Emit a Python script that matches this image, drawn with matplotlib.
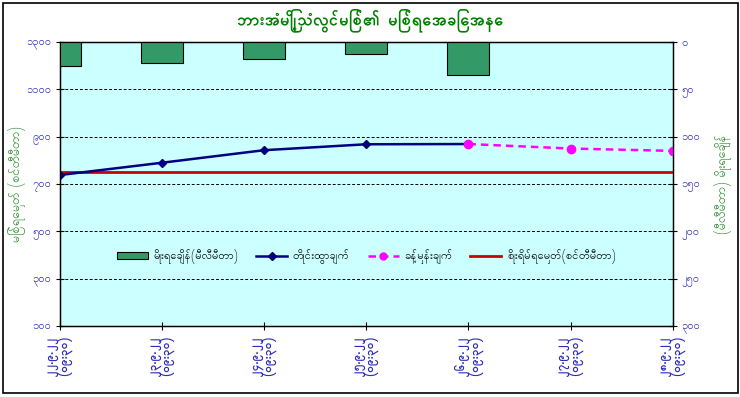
import os
import numpy as np
import matplotlib
matplotlib.use("Agg")
import matplotlib.pyplot as plt
from matplotlib import font_manager
from matplotlib.lines import Line2D
from matplotlib.patches import Patch, Rectangle

# Myanmar font (not registered by name, so add it from its file)
gdir = "/usr/share/fonts/truetype/google-fonts/"
for fn in ["Padauk-Regular.ttf", "Padauk-Bold.ttf"]:
    if os.path.exists(gdir + fn):
        font_manager.fontManager.addfont(gdir + fn)
plt.rcParams['font.family'] = ['Padauk', 'DejaVu Sans']

# data
dates = ["၂၂.၉.၂၂\n(၀၉:၃၀)", "၂၃.၉.၂၂\n(၀၉:၃၀)", "၂၄.၉.၂၂\n(၀၉:၃၀)", "၂၅.၉.၂၂\n(၀၉:၃၀)",
         "၂၆.၉.၂၂\n(၀၉:၃၀)", "၂၇.၉.၂၂\n(၀၉:၃၀)", "၂၈.၉.၂၂\n(၀၉:၃၀)"]
rain = [25, 22, 18, 13, 35, np.nan, np.nan]
observed = [738, 790, 843, 868, 869, np.nan, np.nan]
forecast = [np.nan, np.nan, np.nan, np.nan, 869, 850, 840]
danger = 750

level_ticks = [100, 300, 500, 700, 900, 1100, 1300]
level_labels = ["၁၀၀", "၃၀၀", "၅၀၀", "၇၀၀", "၉၀၀", "၁၁၀၀", "၁၃၀၀"]
rain_ticks = [0, 50, 100, 150, 200, 250, 300]
rain_labels = ["၀", "၅၀", "၁၀၀", "၁၅၀", "၂၀၀", "၂၅၀", "၃၀၀"]

title = "ဘားအံမြို့သံလွင်မြစ်၏ မြစ်ရေအခြေအနေ"
left_label = "မြစ်ရေမှတ် (စင်တီမီတာ)"
right_label = "(မီလီမီတာ) မိုးရေချိန်"
leg_rain = "မိုးရေချိန်(မီလီမီတာ)"
leg_obs = "တိုင်းထွာချက်"
leg_fc = "ခန့်မှန်းချက်"
leg_danger = "စိုးရိမ်ရေမှတ်(စင်တီမီတာ)"

blue = "#2b2bb8"
green = "#2e8b2e"

fig = plt.figure(figsize=(7.4, 3.97), dpi=100, facecolor="white")
fig.patches.append(Rectangle((0.004, 0.010), 0.993, 0.982, transform=fig.transFigure,
                             fill=False, edgecolor="black", linewidth=1.2))
ax = fig.add_axes([0.081, 0.179, 0.828, 0.715])
ax.set_facecolor("#ccffff")
x = np.arange(len(dates))

ax.axhline(danger, color="#cc0000", linewidth=2, zorder=3)
ax.plot(x, observed, color="#000080", linewidth=1.8, marker="D", markersize=4.5, zorder=4)
ax.plot(x, forecast, color="#ff00ff", linewidth=1.8, linestyle=(0, (3, 2)),
        marker="o", markersize=6, zorder=5)

ax.set_xlim(0, 6)
ax.set_ylim(100, 1300)
ax.set_yticks(level_ticks)
ax.set_yticklabels(level_labels, color=blue, fontsize=8)
ax.set_xticks(x)
ax.set_xticklabels(dates, rotation=90, color=blue, fontsize=8.5, fontweight="bold",
                   linespacing=0.85)
ax.tick_params(axis="both", direction="inout", length=6, width=0.8)
ax.tick_params(axis="x", pad=4)
ax.grid(axis="y", color="black", linestyle=(0, (3, 2)), linewidth=0.7)
ax.set_ylabel(left_label, color=green, fontsize=9)
ax.yaxis.set_label_coords(-0.055, 0.5)
for s in ax.spines.values():
    s.set_linewidth(1)

ax2 = ax.twinx()
ax2.bar(x, rain, width=0.41, color="#339966", edgecolor="black", linewidth=0.8, zorder=2)
ax2.set_ylim(300, 0)
ax2.set_yticks(rain_ticks)
ax2.set_yticklabels(rain_labels, color=blue, fontsize=8)
ax2.tick_params(axis="y", direction="inout", length=6, width=0.8)
ax2.set_ylabel(right_label, color=green, fontsize=9, rotation=90)
ax2.yaxis.set_label_coords(1.068, 0.5)

fig.text(0.5, 0.948, title, ha="center", va="center", color="#008000",
         fontsize=12, fontweight="bold")

handles = [Patch(facecolor="#339966", edgecolor="black", linewidth=0.8),
           Line2D([], [], color="#000080", linewidth=1.8, marker="D", markersize=4),
           Line2D([], [], color="#ff00ff", linewidth=1.8, linestyle=(0, (3, 2)), marker="o", markersize=5),
           Line2D([], [], color="#cc0000", linewidth=2)]
ax2.legend(handles, [leg_rain, leg_obs, leg_fc, leg_danger], ncol=4, frameon=False,
           loc="center", bbox_to_anchor=(0.5, 0.243), fontsize=8, handlelength=2.8,
           columnspacing=1.6, handletextpad=0.5)

fig.savefig("out.png", dpi=100, facecolor=fig.get_facecolor())
